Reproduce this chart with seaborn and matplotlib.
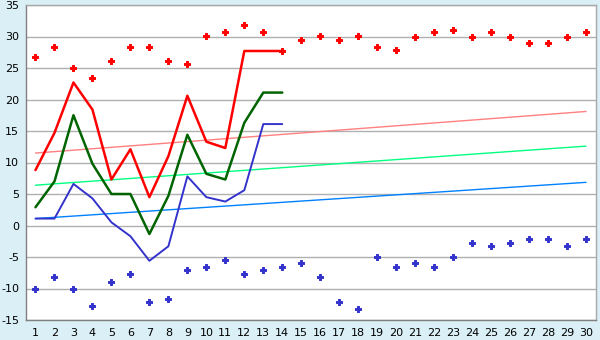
import matplotlib
matplotlib.use("Agg")
import matplotlib.pyplot as plt
import seaborn as sns
import pandas as pd

days = list(range(1, 31))
line_days = list(range(1, 15))

red_line = [8.8, 14.7, 22.7, 18.4, 7.3, 12.1, 4.5, 11.0, 20.6, 13.3, 12.3, 27.7, 27.7, 27.7]
green_line = [2.9, 7.0, 17.5, 9.8, 5.0, 5.0, -1.35, 4.7, 14.4, 8.2, 7.3, 16.3, 21.1, 21.1]
blue_line = [1.1, 1.1, 6.6, 4.3, 0.5, -1.7, -5.6, -3.3, 7.8, 4.5, 3.8, 5.6, 16.1, 16.1]

red_points = [26.7, 28.3, 25.0, 23.4, 26.1, 28.3, 28.3, 26.1, 25.6, 30.1,
              30.7, 31.8, 30.7, 27.7, 29.4, 30.1, 29.4, 30.1, 28.3, 27.8,
              30.0, 30.7, 31.1, 30.0, 30.7, 30.0, 28.9, 28.9, 30.0, 30.7]
blue_points = [-10.0, -8.2, -10.0, -12.8, -8.9, -7.75, -12.2, -11.7, -7.1, -6.6,
               -5.5, -7.75, -7.1, -6.6, -6.0, -8.2, -12.2, -13.3, -5.0, -6.6,
               -6.0, -6.6, -5.0, -2.8, -3.3, -2.8, -2.2, -2.2, -3.3, -2.2]

trend_days = [1, 30]
red_trend = [11.5, 18.1]
green_trend = [6.4, 12.6]
blue_trend = [1.1, 6.85]

sns.set_theme(style="white")
plt.rcParams['font.family'] = ['DejaVu Sans']
plt.rcParams['axes.unicode_minus'] = False

bg = "#daeff6"
fig = plt.figure(figsize=(6, 3.4), dpi=100, facecolor=bg)
ax = fig.add_axes([26/600, 1-320/340, (595.5-26)/600, (320-5)/340])
ax.set_facecolor("white")

lines_df = pd.DataFrame({"day": line_days, "red": red_line, "green": green_line, "blue": blue_line})
pts_df = pd.DataFrame({"day": days, "hi": red_points, "lo": blue_points})
tr_df = pd.DataFrame({"day": trend_days, "r": red_trend, "g": green_trend, "b": blue_trend})

for col, c in [("r", "#ff8080"), ("g", "#00ff80"), ("b", "#0080ff")]:
    sns.lineplot(data=tr_df, x="day", y=col, color=c, lw=1.0, ax=ax, estimator=None, sort=False)

sns.lineplot(data=lines_df, x="day", y="blue", color="#3333cc", lw=1.4, ax=ax, estimator=None, sort=False)
sns.lineplot(data=lines_df, x="day", y="green", color="#006400", lw=1.8, ax=ax, estimator=None, sort=False)
sns.lineplot(data=lines_df, x="day", y="red", color="#ff0000", lw=1.8, ax=ax, estimator=None, sort=False)

sns.scatterplot(data=pts_df, x="day", y="hi", color="#ff0000", edgecolor="#ff0000",
                marker="P", s=22, linewidth=0.7, ax=ax)
sns.scatterplot(data=pts_df, x="day", y="lo", color="#3333cc", edgecolor="#3333cc",
                marker="P", s=22, linewidth=0.7, ax=ax)

ax.set_xlim(0.5, 30.5)
ax.set_ylim(-15, 35)
ax.set_xticks(days)
ax.set_yticks(range(-15, 40, 5))
ax.set_xlabel("")
ax.set_ylabel("")
ax.grid(axis="y", color="#b0b0b0", lw=1.0)
ax.set_axisbelow(True)
for s in ax.spines.values():
    s.set_color("#a8a8a8")
    s.set_linewidth(1.0)
ax.spines["left"].set_color("#808080")
ax.spines["bottom"].set_color("#808080")
ax.tick_params(axis="both", which="both", direction="out", length=4, width=1,
               color="#000000", labelsize=8, pad=1, labelcolor="#000000")
ax.tick_params(axis="x", pad=2)

fig.savefig("out.png", dpi=100, facecolor=bg)
